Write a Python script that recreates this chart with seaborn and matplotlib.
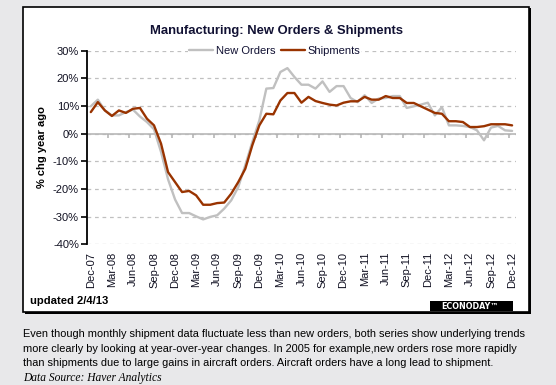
import numpy as np
import pandas as pd
import seaborn as sns
import matplotlib.pyplot as plt
from matplotlib.patches import Rectangle

# monthly categories Dec-07 .. Dec-12
months = pd.date_range('2007-12-01', '2012-12-01', freq='MS')
month_labels = [m.strftime('%b-%y') for m in months]

new_orders = [9.9, 12.3, 8.4, 6.6, 6.6, 7.8, 8.7, 6.2, 4.2, 1.6,
              -6.6, -16.5, -23.8, -28.7, -28.7, -29.9, -31.0, -30.1, -29.5, -27.1,
              -24.1, -19.3, -11.4, -3.0, 4.8, 16.3, 16.5, 22.3, 23.7, 20.5,
              17.7, 17.7, 16.3, 18.9, 15.1, 17.2, 17.2, 12.9, 11.4, 13.9,
              11.1, 12.7, 12.9, 13.6, 13.6, 9.3, 9.9, 10.5, 11.2, 6.6,
              9.6, 3.0, 3.0, 2.8, 2.4, 1.2, -2.4, 2.2, 2.8, 1.2, 1.0]
shipments = [7.8, 11.4, 8.4, 6.4, 8.4, 7.5, 9.0, 9.3, 5.4, 3.0,
             -3.6, -13.9, -17.5, -21.1, -20.7, -22.3, -25.7, -25.7, -25.1, -24.9,
             -21.7, -17.5, -12.7, -4.2, 3.0, 7.2, 7.0, 12.0, 14.7, 14.7,
             11.2, 13.3, 11.8, 11.1, 10.5, 10.2, 11.2, 11.7, 11.7, 13.3,
             12.3, 12.3, 13.6, 12.9, 12.9, 11.1, 11.1, 9.9, 8.7, 7.5,
             7.2, 4.5, 4.5, 4.2, 2.4, 2.4, 2.7, 3.4, 3.4, 3.4, 3.0]

y_ticks = [-40, -30, -20, -10, 0, 10, 20, 30]
y_tick_labels = [f'{v}%' for v in y_ticks]

caption = ["Even though monthly shipment data fluctuate less than new orders, both series show underlying trends",
           "more clearly by looking at year-over-year changes. In 2005 for example,new orders rose more rapidly",
           "than shipments due to large gains in aircraft orders. Aircraft orders have a long lead to shipment."]

df = pd.DataFrame({'idx': np.arange(len(months)),
                   'New Orders': new_orders,
                   'Shipments': shipments})
long_df = df.melt(id_vars='idx', var_name='series', value_name='value')

sns.set_style('white')
plt.rcParams['font.family'] = ['Liberation Sans', 'DejaVu Sans']

W, H = 556, 385
fig = plt.figure(figsize=(W / 100, H / 100), dpi=100)
fig.patch.set_facecolor('#E8E8EA')

def fx(px):
    return px / W

def fy(py):
    return 1 - py / H

# white chart panel with a heavier right/bottom edge
fig.patches.append(Rectangle((fx(25), fy(313.5)), fx(506), 306 / H, transform=fig.transFigure,
                             facecolor='black', edgecolor='none', zorder=-3))
fig.patches.append(Rectangle((fx(23), fy(311.5)), fx(506), 304.5 / H, transform=fig.transFigure,
                             facecolor='white', edgecolor='black', linewidth=1.2, zorder=-2))

ax = fig.add_axes([fx(87.3), fy(244.3), fx(515.6 - 87.3), (244.3 - 50.7) / H])
ax.set_facecolor('none')

sns.lineplot(data=long_df, x='idx', y='value', hue='series',
             hue_order=['New Orders', 'Shipments'],
             palette={'New Orders': '#C0C0C0', 'Shipments': '#993300'},
             linewidth=1.7, ax=ax, zorder=3)

ax.set_xlim(-0.5, len(months) - 0.5)
ax.set_ylim(-40, 30)
ax.set_yticks(y_ticks)
ax.set_yticklabels(y_tick_labels)
ax.set_xticks(range(0, len(months), 3))
ax.set_xticklabels(month_labels[::3], rotation=90)
ax.set_xlabel('')
ax.set_ylabel('')

ax.yaxis.grid(True, color='#C0C0C0', linestyle=(0, (3, 3)), linewidth=0.9)
ax.axhline(0, color='#B8B8B8', linewidth=1.2, zorder=2)

# tick marks between category groups, hanging below the zero line
boundaries = np.arange(2.5, len(months) - 1, 3)
ax.vlines(boundaries, -1.6, 0, color='#B0B0B0', linewidth=1.1, zorder=2)

for s in ['top', 'right', 'bottom']:
    ax.spines[s].set_visible(False)
ax.spines['left'].set_color('black')
ax.spines['left'].set_linewidth(1.3)
ax.tick_params(axis='y', left=True, length=4, width=1.2, color='black', pad=2,
               labelsize=8, labelcolor='#111122')
ax.tick_params(axis='x', bottom=True, length=0, pad=5.5, labelsize=8, labelcolor='#111122')

leg = ax.legend(loc='center', bbox_to_anchor=(0.437, 1.0), ncol=2, frameon=True,
                fontsize=8, handlelength=2.2, handletextpad=0.2, columnspacing=0.5,
                borderpad=0.1, borderaxespad=0)
leg.get_frame().set_facecolor('white')
leg.get_frame().set_edgecolor('none')
leg.get_frame().set_alpha(1)
for t in leg.get_texts():
    t.set_color('#111133')

fig.text(fx(277), fy(31), 'Manufacturing: New Orders & Shipments', ha='center', va='center',
         fontsize=9.4, fontweight='bold', color='#111133')
fig.text(fx(42), fy(147), '% chg year ago', rotation=90, ha='center', va='center',
         fontsize=8, fontweight='bold', color='black')
fig.text(fx(30), fy(301), 'updated 2/4/13', ha='left', va='center',
         fontsize=8.1, fontweight='bold', color='black')

# logo
fig.patches.append(Rectangle((fx(430), fy(310.5)), fx(83), 9.5 / H, transform=fig.transFigure,
                             facecolor='black', edgecolor='none', zorder=1))
fig.text(fx(470), fy(308.8), 'ECONODAY™', ha='center', va='baseline', fontsize=5.8,
         fontweight='bold', color='white', family=['DejaVu Sans'], zorder=2)

for i, line in enumerate(caption):
    fig.text(fx(23), fy(334 + 14.6 * i), line, ha='left', va='center',
             fontsize=7.95, color='black')
fig.text(fx(23), fy(378), 'Data Source: Haver Analytics', ha='left', va='center',
         fontsize=8.3, style='italic', color='black', family=['Liberation Serif'])

fig.savefig('out.png', dpi=100, facecolor=fig.get_facecolor())
